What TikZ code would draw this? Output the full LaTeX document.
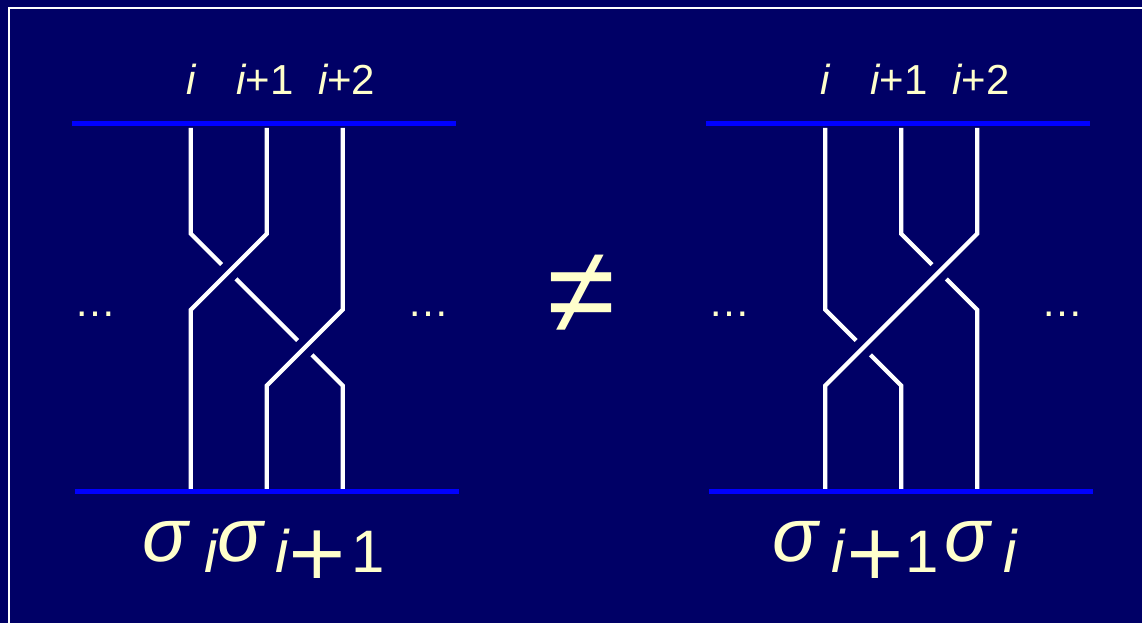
\documentclass[tikz,border=0pt]{standalone}
\usepackage{fontspec}
\setmainfont{Liberation Sans}
\newfontfamily\plusfont{DejaVu Sans}
\usetikzlibrary{positioning}

\definecolor{navybg}{HTML}{000066}
\definecolor{railblue}{HTML}{0000FF}
\definecolor{chalk}{HTML}{FFFFCC}

\tikzset{
  strand/.style={draw=white,line width=2.1pt},
  overstrand/.style={strand,preaction={draw=navybg,line width=10pt}},
  rail/.style={draw=railblue,line width=2.5pt},
  lbl/.style={text=chalk,inner sep=0pt,anchor=base,font=\fontsize{21pt}{24pt}\selectfont},
  sig/.style={text=chalk,inner sep=0pt,anchor=base west,font=\fontsize{38pt}{40pt}\selectfont\itshape},
  sub/.style={text=chalk,inner sep=0pt,anchor=base west,font=\fontsize{30pt}{32pt}\selectfont},
  plussign/.style={text=chalk,inner sep=0pt,font=\plusfont\fontsize{38pt}{40pt}\selectfont},
}

\begin{document}
\begin{tikzpicture}[x=0.5pt,y=-0.5pt]
  \fill[navybg] (0,0) rectangle (1143,624);
  \draw[white,line width=1pt] (9.5,624)--(9.5,8)--(1143,8);

  % left braid: sigma_i sigma_{i+1}
  \coordinate (tA) at (191,128);
  \coordinate (tB) at (267,128);
  \coordinate (tC) at (343,128);
  \draw[strand] (tA)--(191,234)--(343,386)--(343,490);
  \draw[overstrand] (tB)--(267,234)--(191,310)--(191,490);
  \draw[overstrand] (tC)--(343,310)--(267,386)--(267,490);
  \draw[rail] (72,124)--(456,124);
  \draw[rail] (75,492)--(459,492);

  \node[lbl] (li) at (191,95) {\itshape i};
  \node[lbl] (li1) at (265,95) {\itshape i\upshape+1};
  \node[lbl] (li2) at (347,95) {\itshape i\upshape+2};
  \node[lbl] (ldotsl) at (95.5,317) {…};
  \node[lbl] (ldotsr) at (428.5,317) {…};

  \node[sig] (ls1) at (142,562) {σ};
  \node[sub,font=\fontsize{30pt}{32pt}\selectfont\itshape] (lsi) at (204,573) {i};
  \node[sig] (ls2) at (217,562) {σ};
  \node[sub,font=\fontsize{30pt}{32pt}\selectfont\itshape] (lsj) at (275,573) {i};
  \node[plussign] (lplus) at (318,555) {+};
  \node[sub] (lone) at (351,573) {1};

  \node[text=chalk,inner sep=0pt,font=\fontsize{62pt}{64pt}\selectfont] (neq) at (582,295) {≠};

  % right braid: sigma_{i+1} sigma_i
  \begin{scope}[shift={(635,0)}]
    \coordinate (tX) at (191,128);
    \coordinate (tY) at (267,128);
    \coordinate (tZ) at (343,128);
    \draw[strand] (tY)--(267,234)--(343,310)--(343,490);
    \draw[strand] (tX)--(191,310)--(267,386)--(267,490);
    \draw[overstrand] (tZ)--(343,234)--(191,386)--(191,490);
    \draw[rail] (72,124)--(456,124);
    \draw[rail] (75,492)--(459,492);

    \node[lbl] (ri) at (191,95) {\itshape i};
    \node[lbl] (ri1) at (265,95) {\itshape i\upshape+1};
    \node[lbl] (ri2) at (347,95) {\itshape i\upshape+2};
    \node[lbl] (rdotsl) at (95.5,317) {…};
    \node[lbl] (rdotsr) at (428.5,317) {…};
  \end{scope}

  \node[sig] (rs1) at (773,562) {σ};
  \node[sub,font=\fontsize{30pt}{32pt}\selectfont\itshape] (rsj) at (832,573) {i};
  \node[plussign] (rplus) at (876,555) {+};
  \node[sub] (rone) at (906,573) {1};
  \node[sig] (rs2) at (945,562) {σ};
  \node[sub,font=\fontsize{30pt}{32pt}\selectfont\itshape] (rsi) at (1004,573) {i};
\end{tikzpicture}
\end{document}
